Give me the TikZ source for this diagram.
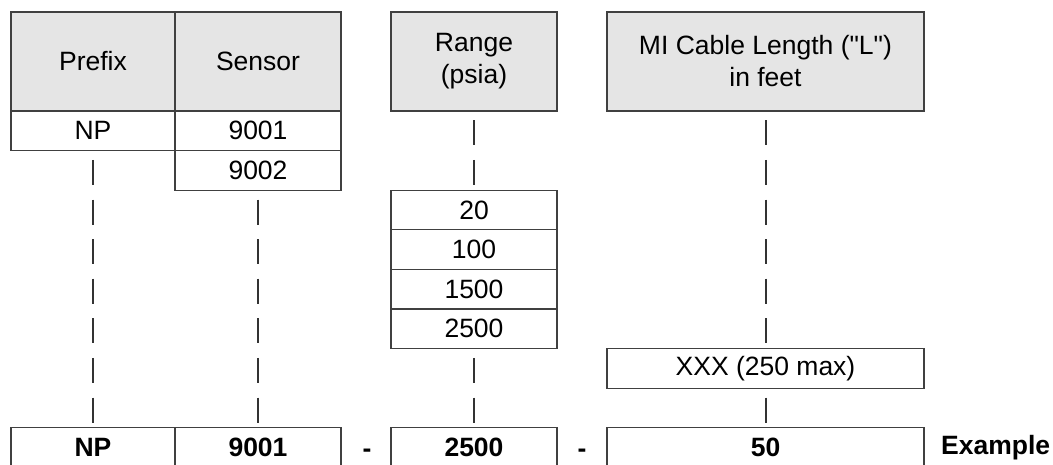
\documentclass[tikz,border=0pt]{standalone}
\usepackage{fontspec}
\setmainfont{Liberation Sans}[Ligatures=TeXOff]
\begin{document}
\begin{tikzpicture}[x=1pt,y=-1pt]
\tikzset{
 cell/.style={draw=black!75, line width=1.3pt, anchor=north west, inner sep=0pt, outer sep=0pt, minimum height=39.6pt, align=center, font=\fontsize{26.5}{32}\selectfont},
 head/.style={cell, fill=black!10, minimum height=99pt},
 boldcell/.style={cell, font=\fontsize{26.5}{32}\selectfont\bfseries},
 tick/.style={draw=black!80, line width=2pt, dash pattern=on 25pt off 14.6pt, dash phase=30.3pt},
 sep/.style={font=\fontsize{26.5}{32}\selectfont\bfseries, inner sep=0pt}
}
\useasboundingbox (0,0) rectangle (1053,464);
% headers
\node[head, minimum width=164pt] (hp) at (11,12) {Prefix};
\node[head, minimum width=166pt] (hs) at (175,12) {Sensor};
\node[head, minimum width=166pt] (hr) at (391,12) {Range\\(psia)};
\node[head, minimum width=317pt] (hm) at (607,12) {MI Cable Length ("L")\\in feet};
% options
\node[cell, minimum width=164pt] (np) at (11,111) {NP};
\node[cell, minimum width=166pt] (s1) at (175,111) {9001};
\node[cell, minimum width=166pt] (s2) at (175,150.6) {9002};
\node[cell, minimum width=166pt] (r1) at (391,190.2) {20};
\node[cell, minimum width=166pt] (r2) at (391,229.8) {100};
\node[cell, minimum width=166pt] (r3) at (391,269.4) {1500};
\node[cell, minimum width=166pt] (r4) at (391,309) {2500};
\node[cell, minimum width=317pt] (mx) at (607,348.6) {XXX (250 max)};
% example row
\node[boldcell, minimum width=164pt] (bnp) at (11,427.8) {NP};
\node[boldcell, minimum width=166pt] (bs) at (175,427.8) {9001};
\node[boldcell, minimum width=166pt] (br) at (391,427.8) {2500};
\node[boldcell, minimum width=317pt] (bm) at (607,427.8) {50};
\node[sep, anchor=base] (d1) at (367,457.5) {-};
\node[sep, anchor=base] (d2) at (582,457.5) {-};
\node[sep, anchor=west] (ex) at (941,447.6) {Example};
% connectors
\draw[tick] (np.south) -- (bnp.north);
\draw[tick] (s2.south) -- (bs.north);
\draw[tick] (hr.south) -- (r1.north);
\draw[tick] (r4.south) -- (br.north);
\draw[tick] (hm.south) -- (mx.north);
\draw[tick] (mx.south) -- (bm.north);
\end{tikzpicture}
\end{document}
